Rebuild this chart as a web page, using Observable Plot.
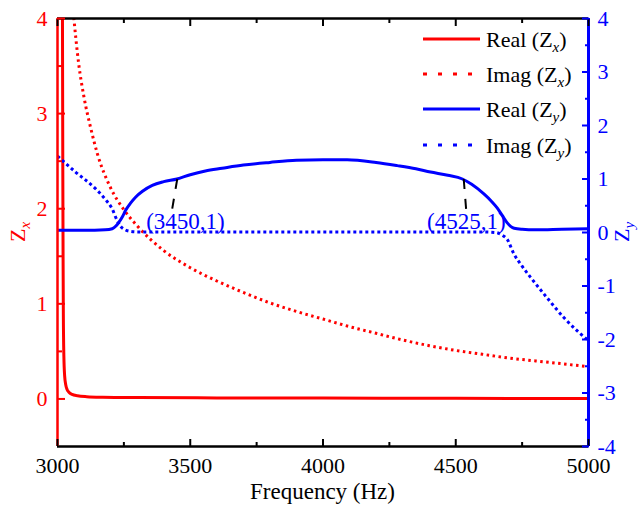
<!DOCTYPE html>
<html><head><meta charset="utf-8">
<script src="https://cdn.jsdelivr.net/npm/d3@7"></script>
<script src="https://cdn.jsdelivr.net/npm/@observablehq/plot@0.6"></script>
<style>
body{margin:0;background:#fff;font-family:"Liberation Serif";}
svg{display:block}
</style>
</head><body><div id="chart"></div>
<script>
const RED = "#ff0000", BLUE = "#0000ff";
const FONT = "Liberation Serif";

// Real(Zx)
const realZxF = [3016, 3018, 3019, 3020, 3021, 3022, 3024, 3027, 3031, 3036, 3043, 3055, 3075, 3110, 3170, 3300, 3600, 4000, 4500, 5000];
const realZxV = [8, 5, 3.6, 2.4, 1.5, 0.9, 0.45, 0.24, 0.15, 0.1, 0.07, 0.048, 0.034, 0.024, 0.018, 0.014, 0.011, 0.009, 0.006, 0.004];
// Imag(Zx)
const imagZxF = [3055, 3060, 3080, 3100, 3125, 3150, 3200, 3250, 3300, 3400, 3500, 3600, 3700, 3800, 3900, 4000, 4100, 4200, 4300, 4400, 4500, 4600, 4700, 4800, 4900, 5000];
const imagZxV = [4.2, 4.05, 3.52, 3.17, 2.85, 2.58, 2.22, 1.99, 1.82, 1.56, 1.38, 1.24, 1.12, 1.01, 0.92, 0.84, 0.76, 0.69, 0.62, 0.56, 0.51, 0.47, 0.43, 0.40, 0.37, 0.34];
// Real(Zy)
const realZyF = [3000, 3100, 3180, 3206, 3220, 3231, 3245, 3256, 3275, 3294, 3320, 3357, 3400, 3450, 3500, 3557, 3620, 3700, 3800, 3900, 4000, 4091, 4200, 4280, 4350, 4405, 4470, 4525, 4560, 4606, 4635, 4656, 4675, 4694, 4708, 4720, 4750, 4800, 4900, 5000];
const realZyV = [0.04, 0.04, 0.05, 0.07, 0.12, 0.19, 0.30, 0.41, 0.55, 0.66, 0.77, 0.88, 0.95, 1.0, 1.08, 1.15, 1.2, 1.26, 1.31, 1.35, 1.36, 1.36, 1.31, 1.25, 1.19, 1.13, 1.07, 1.0, 0.9, 0.72, 0.58, 0.46, 0.32, 0.18, 0.11, 0.08, 0.06, 0.05, 0.06, 0.07];
// Imag(Zy)
const imagZyF = [3000, 3068, 3143, 3180, 3206, 3225, 3237, 3255, 3275, 3300, 3500, 4000, 4400, 4600, 4650, 4675, 4694, 4719, 4750, 4782, 4844, 4907, 4960, 5000];
const imagZyV = [1.43, 1.13, 0.82, 0.62, 0.44, 0.22, 0.12, 0.05, 0.02, 0.01, 0.01, 0.01, 0.01, 0.01, 0.0, -0.05, -0.13, -0.40, -0.63, -0.84, -1.22, -1.59, -1.85, -2.02];

// ticks
const xMajor = [3000, 3500, 4000, 4500, 5000];
const xMinor = [3250, 3750, 4250, 4750];
const zxMajor = [0, 1, 2, 3, 4];
const zxMinor = [0.5, 1.5, 2.5, 3.5];
const zyMajor = [-4, -3, -2, -1, 0, 1, 2, 3, 4];
const zyMinor = [-3.5, -2.5, -1.5, -0.5, 0.5, 1.5, 2.5, 3.5];

// annotations
const annF = [3482, 4540];
const annV = [0.21, 0.21];
const annText = ["(3450,1)", "(4525,1)"];
const leadF1 = [3451, 4530], leadV1 = [1.0, 1.0];
const leadF2 = [3432, 4539], leadV2 = [0.44, 0.44];

// legend
const legendNames = ["Real", "Imag", "Real", "Imag"];
const legendSubs = ["x", "x", "y", "y"];
const legendColors = [RED, RED, BLUE, BLUE];
const legendDash = [null, "4,11", null, "4,11"];

const ZX = [-0.5, 4], ZY = [-4, 4];
const zyToZx = v => ZX[0] + (v - ZY[0]) * (ZX[1] - ZX[0]) / (ZY[1] - ZY[0]);
const zxToZy = v => ZY[0] + (v - ZX[0]) * (ZY[1] - ZY[0]) / (ZX[1] - ZX[0]);

const tbl = (F, V) => F.map((f, i) => ({f, v: V[i]}));
const realZx = tbl(realZxF, realZxV), imagZx = tbl(imagZxF, imagZxV);
const realZy = tbl(realZyF, realZyV), imagZy = tbl(imagZyF, imagZyV);
const ann = annF.map((f, i) => ({f, v: annV[i], t: annText[i]}));
const leads = leadF1.map((f, i) => ({f1: f, v1: leadV1[i], f2: leadF2[i], v2: leadV2[i]}));

const chart = Plot.plot({
  width: 639, height: 518,
  marginLeft: 57, marginRight: 51, marginTop: 18, marginBottom: 72,
  style: {background: "white", overflow: "visible"},
  x: {domain: [3000, 5000]},
  y: {domain: ZX},
  marks: [
    Plot.line(realZx, {x: "f", y: "v", stroke: RED, strokeWidth: 3, curve: "monotone-x", clip: true}),
    Plot.line(imagZx, {x: "f", y: "v", stroke: RED, strokeWidth: 3, strokeDasharray: "2.5,3.5", strokeLinecap: "butt", curve: "monotone-x", clip: true}),
    Plot.line(realZy, {x: "f", y: d => zyToZx(d.v), stroke: BLUE, strokeWidth: 3, curve: "monotone-x", clip: true}),
    Plot.line(imagZy, {x: "f", y: d => zyToZx(d.v), stroke: BLUE, strokeWidth: 3, strokeDasharray: "3,3", strokeLinecap: "butt", curve: "monotone-x", clip: true}),
    Plot.link(leads, {x1: "f1", y1: d => zyToZx(d.v1), x2: "f2", y2: d => zyToZx(d.v2), stroke: "black", strokeWidth: 2, strokeDasharray: "10,10"}),
    Plot.text(ann, {x: "f", y: d => zyToZx(d.v), text: "t", fill: BLUE, fontSize: 23, textAnchor: "middle", lineAnchor: "middle"}),
    // frame lines
    Plot.ruleY([ZX[0], ZX[1]], {stroke: "black", strokeWidth: 2.5}),
    Plot.ruleX([3000], {stroke: RED, strokeWidth: 2.5}),
    Plot.ruleX([5000], {stroke: BLUE, strokeWidth: 3}),
    // inward ticks
    Plot.axisX(xMajor, {anchor: "bottom", tickSize: 7, dy: -7, fill: "none", stroke: "black", strokeWidth: 2, label: null}),
    Plot.axisX(xMinor, {anchor: "bottom", tickSize: 4, dy: -4, fill: "none", stroke: "black", strokeWidth: 2, label: null}),
    Plot.axisX(xMajor, {anchor: "top", tickSize: 7, dy: 7, fill: "none", stroke: "black", strokeWidth: 2, label: null}),
    Plot.axisX(xMinor, {anchor: "top", tickSize: 4, dy: 4, fill: "none", stroke: "black", strokeWidth: 2, label: null}),
    Plot.axisY(zxMajor, {anchor: "left", tickSize: 8, dx: 8, fill: "none", stroke: RED, strokeWidth: 2, label: null}),
    Plot.axisY(zxMinor, {anchor: "left", tickSize: 5, dx: 5, fill: "none", stroke: RED, strokeWidth: 2, label: null}),
    Plot.axisY(zyMajor.map(zyToZx), {anchor: "right", tickSize: 7, dx: -7, fill: "none", stroke: BLUE, strokeWidth: 2, label: null}),
    Plot.axisY(zyMinor.map(zyToZx), {anchor: "right", tickSize: 4, dx: -4, fill: "none", stroke: BLUE, strokeWidth: 2, label: null}),
    // tick labels
    Plot.axisX(xMajor, {anchor: "bottom", tickSize: 0, tickPadding: 11, fill: "black", fontSize: 22, tickFormat: d => String(d), label: null}),
    Plot.axisY(zxMajor, {anchor: "left", tickSize: 0, tickPadding: 10, fill: RED, fontSize: 22, tickFormat: d => String(d), label: null}),
    Plot.axisY(zyMajor.map(zyToZx), {anchor: "right", tickSize: 0, tickPadding: 9, fill: BLUE, fontSize: 22, tickFormat: d => String(Math.round(zxToZy(d))), label: null})
  ]
});
document.getElementById("chart").appendChild(chart);

const svg = d3.select(chart);
svg.attr("font-family", FONT);
// legend
const lg = svg.append("g").attr("font-size", 22).attr("text-anchor", "start");
const rowY = [39, 74, 109, 145];
legendNames.forEach((name, i) => {
  const g = lg.append("g").attr("transform", `translate(0,${rowY[i]})`);
  g.append("line").attr("x1", 423).attr("x2", 480).attr("y1", 0).attr("y2", 0)
    .attr("stroke", legendColors[i]).attr("stroke-width", 3)
    .attr("stroke-dasharray", legendDash[i]);
  const t = g.append("text").attr("x", 486).attr("y", 8).attr("fill", "black").attr("text-anchor", "start");
  t.append("tspan").text(name + " (Z");
  t.append("tspan").attr("font-style", "italic").attr("font-size", 15).attr("dy", 5).text(legendSubs[i]);
  t.append("tspan").attr("dy", -5).text(")");
});
// axis titles
const yt = (x, color, sub) => {
  const t = svg.append("text").attr("transform", `translate(${x},232) rotate(-90)`)
    .attr("text-anchor", "middle").attr("fill", color).attr("font-size", 22);
  t.append("tspan").text("Z");
  t.append("tspan").attr("font-style", "italic").attr("font-size", 15).attr("dy", 5).text(sub);
};
yt(25, RED, "x");
yt(629, BLUE, "y");
svg.append("text").attr("x", 322.5).attr("y", 499).attr("text-anchor", "middle")
  .attr("font-size", 23).attr("fill", "black").text("Frequency (Hz)");
// force the serif face on every text
svg.selectAll("text, tspan").style("font-family", FONT);
</script>
</body></html>
